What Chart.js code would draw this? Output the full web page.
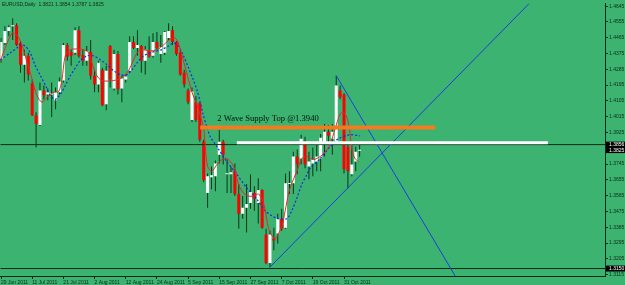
<!DOCTYPE html>
<html>
<head>
<meta charset="utf-8">
<script src="https://cdn.jsdelivr.net/npm/chart.js@4/dist/chart.umd.min.js"></script>
<style>
html, body { margin: 0; padding: 0; background: #3cb371; }
canvas { display: block; }
</style>
</head>
<body>
<canvas id="myChart" width="625" height="285"></canvas>
<script>
// EURUSD daily, bar 0 = 29 Jun 2011 ... bar 92 = 4 Nov 2011
let open = [
    1.4345, 1.4435, 1.4503, 1.4531, 1.4536, 1.4435, 1.4311, 1.4362, 1.4204, 1.4024,
    1.3968, 1.4165, 1.4142, 1.4142, 1.4109, 1.4154, 1.4221, 1.4424, 1.4384, 1.4379,
    1.4508, 1.4367, 1.4334, 1.4384, 1.4249, 1.4199, 1.4283, 1.4086, 1.4418, 1.4176,
    1.4373, 1.4176, 1.4227, 1.4277, 1.4441, 1.4407, 1.4418, 1.4334, 1.4390, 1.4362,
    1.4441, 1.4373, 1.4379, 1.4463, 1.4508, 1.4441, 1.4379, 1.4266, 1.4165, 1.3996,
    1.4098, 1.4092, 1.3873, 1.3580, 1.3670, 1.3676, 1.3799, 1.3873, 1.3687, 1.3687,
    1.3704, 1.3574, 1.3462, 1.3496, 1.3524, 1.3580, 1.3524, 1.3597, 1.3344, 1.3181,
    1.3321, 1.3349, 1.3434, 1.3383, 1.3631, 1.3636, 1.3788, 1.3777, 1.3873, 1.3732,
    1.3749, 1.3760, 1.3777, 1.3873, 1.3929, 1.3889, 1.3873, 1.4165, 1.4142, 1.3844,
    1.3687, 1.3760, 1.3821
];
let high = [
    1.4463, 1.4531, 1.4536, 1.4576, 1.4548, 1.4446, 1.4396, 1.4379, 1.4227, 1.4041,
    1.4210, 1.4193, 1.4176, 1.4210, 1.4182, 1.4238, 1.4435, 1.4435, 1.4396, 1.4525,
    1.4531, 1.4396, 1.4418, 1.4452, 1.4283, 1.4334, 1.4294, 1.4306, 1.4424, 1.4396,
    1.4390, 1.4249, 1.4255, 1.4474, 1.4474, 1.4508, 1.4424, 1.4418, 1.4474, 1.4491,
    1.4497, 1.4480, 1.4503, 1.4548, 1.4531, 1.4446, 1.4396, 1.4283, 1.4176, 1.4182,
    1.4131, 1.4098, 1.3884, 1.3692, 1.3732, 1.3766, 1.3940, 1.3884, 1.3771, 1.3732,
    1.3749, 1.3631, 1.3563, 1.3631, 1.3687, 1.3619, 1.3664, 1.3602, 1.3377, 1.3366,
    1.3383, 1.3462, 1.3490, 1.3692, 1.3704, 1.3816, 1.3828, 1.3912, 1.3901, 1.3816,
    1.3839, 1.3856, 1.3917, 1.3974, 1.3968, 1.3974, 1.4249, 1.4193, 1.4148, 1.3873,
    1.3856, 1.3844, 1.3854
];
let low = [
    1.4322, 1.4424, 1.4474, 1.4452, 1.4418, 1.4266, 1.4210, 1.4221, 1.4019, 1.3839,
    1.3962, 1.4114, 1.4109, 1.4013, 1.4058, 1.4142, 1.4210, 1.4334, 1.4306, 1.4367,
    1.4351, 1.4306, 1.4306, 1.4227, 1.4154, 1.4154, 1.4075, 1.4052, 1.4182, 1.4165,
    1.4142, 1.4098, 1.4210, 1.4266, 1.4401, 1.4362, 1.4266, 1.4255, 1.4351, 1.4351,
    1.4396, 1.4322, 1.4367, 1.4452, 1.4424, 1.4362, 1.4249, 1.4182, 1.4086, 1.3985,
    1.3985, 1.3873, 1.3642, 1.3496, 1.3602, 1.3591, 1.3749, 1.3743, 1.3580, 1.3580,
    1.3563, 1.3377, 1.3434, 1.3355, 1.3490, 1.3479, 1.3406, 1.3377, 1.3175, 1.3158,
    1.3254, 1.3293, 1.3366, 1.3377, 1.3574, 1.3574, 1.3687, 1.3743, 1.3721, 1.3659,
    1.3676, 1.3704, 1.3704, 1.3788, 1.3861, 1.3799, 1.3861, 1.4114, 1.3692, 1.3608,
    1.3676, 1.3704, 1.3787
];
let close = [
    1.4441, 1.4503, 1.4525, 1.4536, 1.4424, 1.4311, 1.4362, 1.4255, 1.4024, 1.3974,
    1.4165, 1.4137, 1.4154, 1.4148, 1.4154, 1.4216, 1.4424, 1.4356, 1.4362, 1.4508,
    1.4362, 1.4334, 1.4390, 1.4249, 1.4199, 1.4322, 1.4081, 1.4277, 1.4227, 1.4373,
    1.4171, 1.4232, 1.4244, 1.4441, 1.4407, 1.4424, 1.4334, 1.4396, 1.4356, 1.4441,
    1.4407, 1.4412, 1.4497, 1.4503, 1.4441, 1.4373, 1.4255, 1.4199, 1.4098, 1.4159,
    1.3996, 1.3884, 1.3653, 1.3676, 1.3681, 1.3749, 1.3873, 1.3799, 1.3692, 1.3698,
    1.3574, 1.3462, 1.3496, 1.3518, 1.3586, 1.3546, 1.3597, 1.3383, 1.3181, 1.3344,
    1.3310, 1.3434, 1.3377, 1.3636, 1.3636, 1.3788, 1.3743, 1.3889, 1.3743, 1.3760,
    1.3771, 1.3788, 1.3895, 1.3929, 1.3906, 1.3929, 1.4193, 1.4126, 1.3715, 1.3704,
    1.3743, 1.3816, 1.3825
];

// moving averages (bar position, price)
let redMaIdx = [-0.2, 2.8, 4.1, 5.4, 6.7, 8.0, 9.2, 10.5, 11.8, 13.5, 14.8, 15.6, 16.5, 17.8, 19.5, 21.2, 22.5, 23.3, 24.6, 25.9,
    28.9, 31.0, 32.7, 34.0, 35.3, 36.6, 38.3, 40.0, 41.7, 43.4, 44.7, 45.5, 46.8, 48.1, 49.0, 50.3, 51.1, 52.0, 52.4, 53.0,
    54.1, 55.4, 56.7, 57.9, 59.2, 60.1, 60.9, 62.2, 63.5, 64.8, 66.1, 67.2, 67.8, 68.6, 69.5, 70.3, 71.2, 72.1, 72.9, 73.8,
    74.6, 75.9, 77.2, 78.5, 80.1, 81.9, 83.2, 84.4, 85.7, 87.0, 87.7, 88.7, 89.4, 90.0, 90.8, 91.7];
let redMaVal = [1.4334, 1.4491, 1.4480, 1.4424, 1.4322, 1.4227, 1.4137, 1.4098, 1.4126, 1.4154, 1.4159, 1.4221, 1.4362, 1.4396, 1.4401, 1.4396, 1.4379, 1.4322, 1.4249, 1.4221,
    1.4221, 1.4238, 1.4277, 1.4339, 1.4390, 1.4396, 1.4390, 1.4396, 1.4424, 1.4457, 1.4463, 1.4435, 1.4334, 1.4227, 1.4154, 1.4081, 1.4024, 1.3946, 1.3844, 1.3732,
    1.3704, 1.3743, 1.3771, 1.3777, 1.3749, 1.3704, 1.3631, 1.3580, 1.3563, 1.3563, 1.3574, 1.3535, 1.3479, 1.3383, 1.3338, 1.3321, 1.3349, 1.3394, 1.3479, 1.3580,
    1.3636, 1.3704, 1.3777, 1.3788, 1.3771, 1.3788, 1.3816, 1.3856, 1.3946, 1.4030, 1.4041, 1.4013, 1.3946, 1.3833, 1.3777, 1.3760];
let blueMaIdx = [-0.2, 2.4, 4.1, 4.9, 6.2, 7.5, 8.8, 10.1, 11.4, 12.6, 13.9, 15.2, 16.5, 17.8, 19.1, 20.3, 22.1, 23.7, 25.5, 27.2,
    28.9, 30.6, 32.3, 33.6, 34.9, 36.6, 38.3, 40.0, 41.1, 43.0, 44.3, 45.5, 46.8, 48.1, 49.4, 50.3, 51.1, 51.9, 52.8, 53.7,
    55.4, 57.9, 60.5, 63.1, 65.6, 67.8, 69.5, 71.1, 73.3, 74.6, 75.9, 77.2, 78.5, 79.3, 81.9, 84.4, 86.5, 89.6, 92.1];
let blueMaVal = [1.4339, 1.4379, 1.4407, 1.4424, 1.4418, 1.4379, 1.4306, 1.4249, 1.4193, 1.4137, 1.4114, 1.4142, 1.4193, 1.4249, 1.4294, 1.4334, 1.4362, 1.4362, 1.4339, 1.4311,
    1.4277, 1.4255, 1.4255, 1.4283, 1.4322, 1.4362, 1.4379, 1.4390, 1.4396, 1.4418, 1.4435, 1.4418, 1.4362, 1.4294, 1.4221, 1.4165, 1.4098, 1.4024, 1.3957, 1.3901,
    1.3844, 1.3760, 1.3687, 1.3608, 1.3546, 1.3479, 1.3451, 1.3434, 1.3434, 1.3479, 1.3552, 1.3631, 1.3687, 1.3721, 1.3777, 1.3844, 1.3889, 1.3912, 1.3906];

// drawn objects
let trendUpIdx = [69, 135.5];
let trendUpVal = [1.3158, 1.4660];
let trendDownIdx = [86, 116.5];
let trendDownVal = [1.4249, 1.3108];
let orangeIdx = [51.1, 111.4];
let orangeVal = 1.3953;
let whiteIdx = [60.5, 140.3];
let whiteVal = 1.3867;
let blackLevels = [1.3856, 1.3150];
let priceBoxes = [1.3856, 1.3825, 1.3150];

// axes
let xTickIdx = [0, 8, 16, 24, 32, 40, 48, 56, 64, 72, 80, 88];
let xTickLabels = ['29 Jun 2011', '11 Jul 2011', '21 Jul 2011', '2 Aug 2011', '12 Aug 2011', '24 Aug 2011',
    '5 Sep 2011', '15 Sep 2011', '27 Sep 2011', '7 Oct 2011', '19 Oct 2011', '31 Oct 2011'];
let yTicks = [1.3115, 1.3205, 1.3295, 1.3385, 1.3475, 1.3565, 1.3655, 1.3745, 1.3925, 1.4015,
    1.4105, 1.4195, 1.4285, 1.4375, 1.4465, 1.4555, 1.4645];
let xMin = -0.18, xMax = 154.95;
let yMin = 1.31075, yMax = 1.4660;

const titleText = 'EURUSD,Daily  1.3821 1.3854 1.3787 1.3825';
const noteText = '2 Wave Supply Top @1.3940';
const noteIdx = 55.5, noteVal = 1.3988;

const dark = '#0c2a16';
const axisFont = {family: 'Liberation Sans', size: 5, lineHeight: 1};

// Setup
const wicks = open.map((o, i) => ({x: i, y: [low[i], high[i]]}));
const bodies = open.map((o, i) => ({x: i, y: [o, close[i]]}));
const bodyColors = open.map((o, i) => close[i] >= o ? '#ffffff' : '#ff0000');
const pts = (xs, ys) => xs.map((x, i) => ({x: x, y: Array.isArray(ys) ? ys[i] : ys}));

const overlay = {
    id: 'overlay',
    beforeDraw(chart) {
        const c = chart.ctx;
        c.save();
        c.fillStyle = '#3cb371';
        c.fillRect(0, 0, chart.width, chart.height);
        c.restore();
    },
    afterDraw(chart) {
        const c = chart.ctx;
        const xs = chart.scales.x, ys = chart.scales.y;
        c.save();
        c.fillStyle = dark;
        c.font = '5px "Liberation Sans"';
        c.textBaseline = 'alphabetic';
        c.fillText(titleText, 2, 6);

        c.fillStyle = '#061208';
        c.font = '8.6px "Liberation Serif"';
        c.fillText(noteText, xs.getPixelForValue(noteIdx), ys.getPixelForValue(noteVal));

        c.font = '5px "Liberation Sans"';
        c.textBaseline = 'middle';
        priceBoxes.forEach(p => {
            const y = ys.getPixelForValue(p);
            c.fillStyle = '#000000';
            c.fillRect(xs.right + 1, y - 3, 19, 6);
            c.fillStyle = '#ffffff';
            c.fillText(p.toFixed(4), xs.right + 4, y + 0.5);
        });
        c.restore();
    }
};

const data = {
    datasets: [
        {
            type: 'bar', label: 'wick', data: wicks,
            backgroundColor: '#0a3518', barThickness: 1, grouped: false,
            inflateAmount: 0, order: 3
        },
        {
            type: 'bar', label: 'body', data: bodies,
            backgroundColor: bodyColors, borderColor: '#0e3b1c', borderWidth: 0,
            barThickness: 3, grouped: false, minBarLength: 1, inflateAmount: 0, order: 2
        },
        {
            type: 'line', label: 'ma fast', data: pts(redMaIdx, redMaVal),
            borderColor: '#e8252a', borderWidth: 1, pointRadius: 0, tension: 0.3, order: 1
        },
        {
            type: 'line', label: 'ma slow', data: pts(blueMaIdx, blueMaVal),
            borderColor: '#0b2ee8', borderWidth: 1.2, borderDash: [2, 2], pointRadius: 0, tension: 0.3, order: 1
        },
        {
            type: 'line', label: 'black 1', data: pts([xMin, xMax], blackLevels[0]),
            borderColor: dark, borderWidth: 1, pointRadius: 0, order: 1
        },
        {
            type: 'line', label: 'black 2', data: pts([xMin, xMax], blackLevels[1]),
            borderColor: dark, borderWidth: 1, pointRadius: 0, order: 1
        },
        {
            type: 'line', label: 'white', data: pts(whiteIdx, whiteVal),
            borderColor: '#ffffff', borderWidth: 3, pointRadius: 0, order: 0
        },
        {
            type: 'line', label: 'orange', data: pts(orangeIdx, orangeVal),
            borderColor: '#f47a20', borderWidth: 4, pointRadius: 0, order: 0
        },
        {
            type: 'line', label: 'trend up', data: pts(trendUpIdx, trendUpVal),
            borderColor: '#1c3ee0', borderWidth: 1, pointRadius: 0, order: 0
        },
        {
            type: 'line', label: 'trend down', data: pts(trendDownIdx, trendDownVal),
            borderColor: '#1c3ee0', borderWidth: 1, pointRadius: 0, order: 0
        }
    ]
};

// Config
const config = {
    type: 'bar',
    data: data,
    options: {
        responsive: false,
        animation: false,
        layout: {padding: 0},
        scales: {
            x: {
                type: 'linear', min: xMin, max: xMax, offset: false,
                afterBuildTicks: s => { s.ticks = xTickIdx.map(v => ({value: v})); },
                afterFit: s => { s.height = 9; },
                ticks: {
                    color: dark, font: axisFont, align: 'start', padding: 1,
                    maxRotation: 0, autoSkip: false,
                    callback: (v, i) => xTickLabels[i]
                },
                grid: {drawOnChartArea: false, tickLength: 3, color: dark, offset: false},
                border: {display: true, color: dark, width: 1}
            },
            y: {
                type: 'linear', position: 'right', min: yMin, max: yMax, beginAtZero: false,
                afterBuildTicks: s => { s.ticks = yTicks.map(v => ({value: v})); },
                afterFit: s => { s.width = 20; },
                ticks: {
                    color: dark, font: axisFont, padding: 1,
                    callback: v => v.toFixed(4)
                },
                grid: {drawOnChartArea: false, tickLength: 3, color: dark},
                border: {display: true, color: dark, width: 1}
            }
        },
        plugins: {
            legend: {display: false},
            tooltip: {enabled: false}
        }
    },
    plugins: [overlay]
};

// Initialisation
const myChart = new Chart(
    document.querySelector('#myChart'),
    config
);
</script>
</body>
</html>
